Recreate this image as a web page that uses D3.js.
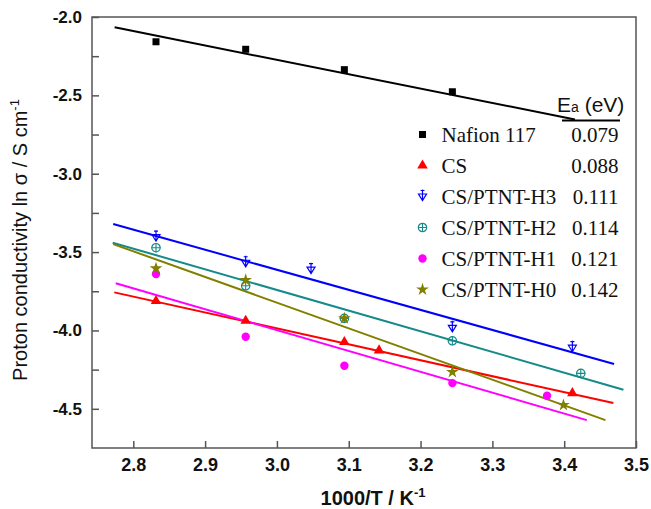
<!DOCTYPE html>
<html>
<head>
<meta charset="utf-8">
<script src="https://cdn.jsdelivr.net/npm/d3@7/dist/d3.min.js"></script>
<style>
  html, body { margin: 0; padding: 0; background: #fff; }
  svg { display: block; }
</style>
</head>
<body>
<svg id="chart" width="651" height="509"></svg>
<script>
// Arrhenius plot: ln(sigma) against 1000/T for each membrane
const seriesNames = ["Nafion 117", "CS", "CS/PTNT-H3", "CS/PTNT-H2", "CS/PTNT-H1", "CS/PTNT-H0"];
const activationEnergy = ["0.079", "0.088", "0.111", "0.114", "0.121", "0.142"];
const seriesColors = ["#000000", "#ff0000", "#0000ff", "#158a8a", "#ff00ff", "#808000"];
const seriesSymbols = ["square", "triangle", "triDown", "circlePlus", "circle", "star"];

// measured points (x = 1000/T in K^-1, y = ln sigma)
const xNafion = [2.8316, 2.9565, 3.0939, 3.2443];
const yNafion = [-2.158, -2.206, -2.336, -2.477];
const xCS = [2.8316, 2.9565, 3.0939, 3.1422, 3.4114];
const yCS = [-3.812, -3.938, -4.074, -4.127, -4.400];
const xH3 = [2.8316, 2.9565, 3.0475, 3.2443, 3.4114];
const yH3 = [-3.405, -3.568, -3.612, -3.983, -4.110];
const xH2 = [2.8316, 2.9565, 3.0939, 3.2443, 3.4231];
const yH2 = [-3.472, -3.715, -3.923, -4.066, -4.274];
const xH1 = [2.8316, 2.9565, 3.0939, 3.2443, 3.3762];
const yH1 = [-3.640, -4.040, -4.225, -4.336, -4.417];
const xH0 = [2.8316, 2.9565, 3.0939, 3.2443, 3.3990];
const yH0 = [-3.604, -3.678, -3.923, -4.265, -4.476];

// linear fits: [x start, y start, x end, y end]
const fitNafion = [2.774, -2.066, 3.415, -2.654];
const fitCS = [2.7735, -3.757, 3.4685, -4.463];
const fitH3 = [2.772, -3.321, 3.4695, -4.214];
const fitH2 = [2.7713, -3.440, 3.4825, -4.378];
const fitH1 = [2.7755, -3.699, 3.4315, -4.572];
const fitH0 = [2.772, -3.449, 3.4575, -4.572];

const xTicks = [2.8, 2.9, 3.0, 3.1, 3.2, 3.3, 3.4, 3.5];
const yTicks = [-2.0, -2.5, -3.0, -3.5, -4.0, -4.5];
const yMinorTicks = [-2.25, -2.75, -3.25, -3.75, -4.25];

const pointX = [xNafion, xCS, xH3, xH2, xH1, xH0];
const pointY = [yNafion, yCS, yH3, yH2, yH1, yH0];
const fits = [fitNafion, fitCS, fitH3, fitH2, fitH1, fitH0];

const svg = d3.select("#chart");
const plotLeft = 92, plotRight = 636, plotTop = 17, plotBottom = 448;
const x = d3.scaleLinear().domain([2.7425, 3.5]).range([plotLeft, plotRight]);
const y = d3.scaleLinear().domain([-4.75, -2.0]).range([plotBottom, plotTop]);

const sansFont = "'Liberation Sans', Arial, Helvetica, sans-serif";
const serifFont = "'Liberation Serif', 'Times New Roman', serif";
const frameColor = "#555";

// fitted lines
const g = svg.append("g");
fits.forEach((f, i) => {
  g.append("line")
    .attr("x1", x(f[0])).attr("y1", y(f[1]))
    .attr("x2", x(f[2])).attr("y2", y(f[3]))
    .attr("stroke", seriesColors[i])
    .attr("stroke-width", 2);
});

// marker shapes
function drawSymbol(sel, kind, color) {
  if (kind === "square") {
    sel.append("rect").attr("x", -3.5).attr("y", -3.5).attr("width", 7).attr("height", 7).attr("fill", color);
  } else if (kind === "triangle") {
    sel.append("path").attr("d", d3.symbol(d3.symbolTriangle, 48)()).attr("fill", color);
  } else if (kind === "circle") {
    sel.append("circle").attr("r", 4.2).attr("fill", color);
  } else if (kind === "star") {
    sel.append("path").attr("d", d3.symbol(d3.symbolStar, 50)()).attr("fill", color);
  } else if (kind === "triDown") {
    sel.append("path").attr("d", "M-4,-2.5L4,-2.5L0,4Z M0,-7L0,4 M-2,-6L2,-6")
      .attr("fill", "none").attr("stroke", color).attr("stroke-width", 1.2);
  } else if (kind === "circlePlus") {
    sel.append("path").attr("d", "M-4.5,0L4.5,0 M0,-4.5L0,4.5")
      .attr("fill", "none").attr("stroke", color).attr("stroke-width", 1.1);
    sel.append("circle").attr("r", 4.2).attr("fill", "none").attr("stroke", color).attr("stroke-width", 1.2);
  }
}

pointX.forEach((xs, i) => {
  xs.forEach((xv, j) => {
    const m = g.append("g").attr("transform", `translate(${x(xv)},${y(pointY[i][j])})`);
    drawSymbol(m, seriesSymbols[i], seriesColors[i]);
  });
});

// frame
svg.append("rect")
  .attr("x", plotLeft).attr("y", plotTop)
  .attr("width", plotRight - plotLeft).attr("height", plotBottom - plotTop)
  .attr("fill", "none").attr("stroke", frameColor).attr("stroke-width", 1.5);

// axes with inward ticks
const fmt = d => d.toFixed(1);
const xAxis = svg.append("g").attr("transform", `translate(0,${plotBottom})`)
  .call(d3.axisBottom(x).tickValues(xTicks).tickSize(-7).tickPadding(10).tickFormat(fmt));
const yAxis = svg.append("g").attr("transform", `translate(${plotLeft},0)`)
  .call(d3.axisLeft(y).tickValues(yTicks).tickSize(-7).tickPadding(10).tickFormat(fmt));
const yMinor = svg.append("g").attr("transform", `translate(${plotLeft},0)`)
  .call(d3.axisLeft(y).tickValues(yMinorTicks).tickSize(-7).tickFormat(""));
[xAxis, yAxis, yMinor].forEach(a => {
  a.select(".domain").remove();
  a.selectAll(".tick line").attr("stroke", frameColor).attr("stroke-width", 1.5);
});
xAxis.selectAll(".tick text")
  .attr("font-family", sansFont).attr("font-size", 18).attr("font-weight", "bold").attr("fill", "#111");
yAxis.selectAll(".tick text")
  .attr("font-family", sansFont).attr("font-size", 17).attr("font-weight", "bold").attr("fill", "#111");

// axis titles
const xTitle = svg.append("text")
  .attr("x", 373).attr("y", 505)
  .attr("text-anchor", "middle")
  .attr("font-family", sansFont).attr("font-size", 20).attr("font-weight", "bold").attr("fill", "#111");
xTitle.append("tspan").text("1000/T / K");
xTitle.append("tspan").attr("dy", -8).attr("font-size", 13).text("-1");

const yTitle = svg.append("text")
  .attr("transform", "translate(27,240) rotate(-90)")
  .attr("text-anchor", "middle")
  .attr("font-family", sansFont).attr("font-size", 20).attr("fill", "#111");
yTitle.append("tspan").text("Proton conductivity ln \u03c3 / S cm");
yTitle.append("tspan").attr("dy", -8).attr("font-size", 13).text("-1");

// legend with activation energies
const lg = svg.append("g");
const head = lg.append("text")
  .attr("x", 557).attr("y", 112)
  .attr("font-family", sansFont).attr("font-size", 21).attr("fill", "#111");
head.append("tspan").text("E");
head.append("tspan").attr("font-size", 14).text("a");
head.append("tspan").text(" (eV)");
lg.append("line")
  .attr("x1", 562).attr("x2", 620).attr("y1", 120.5).attr("y2", 120.5)
  .attr("stroke", "#000").attr("stroke-width", 2);

seriesNames.forEach((name, i) => {
  const cy = 134.5 + i * 31;
  const m = lg.append("g").attr("transform", `translate(422.5,${cy})`);
  drawSymbol(m, seriesSymbols[i], seriesColors[i]);
  lg.append("text")
    .attr("x", 441.5).attr("y", cy + 7.5)
    .attr("font-family", serifFont).attr("font-size", 21).attr("fill", "#111")
    .text(name);
  lg.append("text")
    .attr("x", 618.5).attr("y", cy + 7.5)
    .attr("text-anchor", "end")
    .attr("font-family", serifFont).attr("font-size", 21).attr("fill", "#111")
    .text(activationEnergy[i]);
});
</script>
</body>
</html>
